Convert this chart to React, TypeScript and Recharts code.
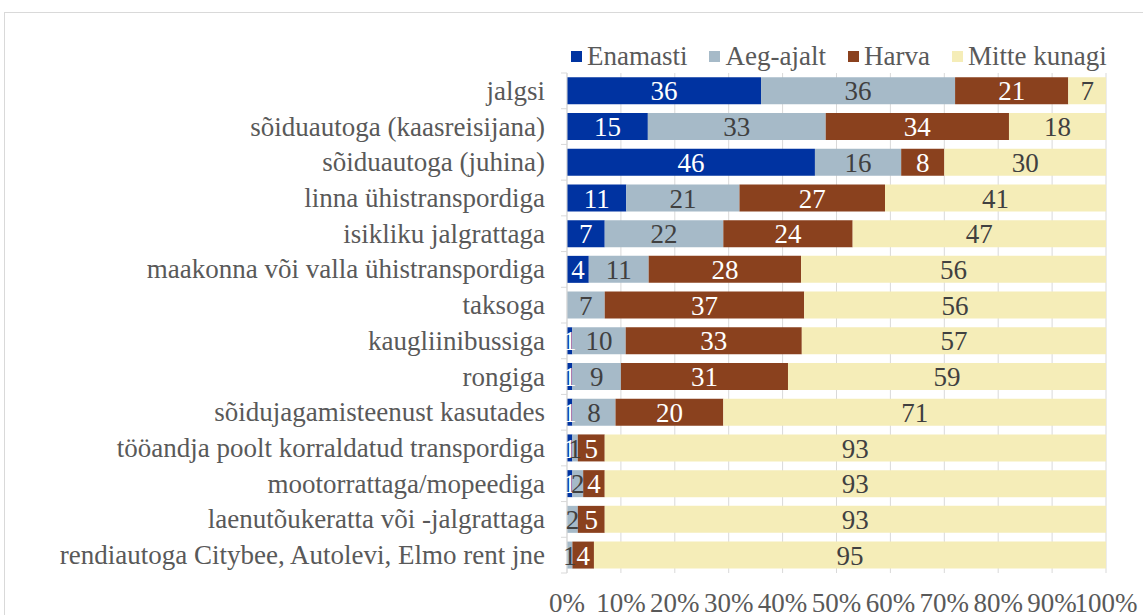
import { BarChart, Bar, XAxis, YAxis, CartesianGrid, Legend, LabelList } from "recharts";

// Share of answers per travel mode, % (Excel 100% stacked bar)
const categories = [
  "jalgsi ",
  "sõiduautoga (kaasreisijana)",
  "sõiduautoga (juhina)",
  "linna ühistranspordiga",
  "isikliku jalgrattaga",
  "maakonna või valla ühistranspordiga",
  "taksoga",
  "kaugliinibussiga",
  "rongiga",
  "sõidujagamisteenust kasutades",
  "tööandja poolt korraldatud transpordiga",
  "mootorrattaga/mopeediga",
  "laenutõukeratta või -jalgrattaga",
  "rendiautoga Citybee, Autolevi, Elmo rent jne",
];
const enamasti = [36, 15, 46, 11, 7, 4, 0, 1, 1, 1, 1, 1, 0, 0];
const aegAjalt = [36, 33, 16, 21, 22, 11, 7, 10, 9, 8, 1, 2, 2, 1];
const harva = [21, 34, 8, 27, 24, 28, 37, 33, 31, 20, 5, 4, 5, 4];
const mitteKunagi = [7, 18, 30, 41, 47, 56, 56, 57, 59, 71, 93, 93, 93, 95];
const xTicks = [0, 0.1, 0.2, 0.3, 0.4, 0.5, 0.6, 0.7, 0.8, 0.9, 1];

const data = categories.map((name, i) => ({
  name,
  enamasti: enamasti[i],
  aegAjalt: aegAjalt[i],
  harva: harva[i],
  mitteKunagi: mitteKunagi[i],
}));

const font = "'Times New Roman', Times, 'Liberation Serif', serif";
const fs = 27;
const plotTop = 73;
const plotH = 500;
const xAxisH = 30;
const band = plotH / categories.length;
const hideZero = (v: any) => (v === 0 ? "" : v);

const series = [
  { key: "enamasti", name: "Enamasti", color: "#0033A1", text: "#FFFFFF" },
  { key: "aegAjalt", name: "Aeg-ajalt", color: "#A6BAC8", text: "#404040" },
  { key: "harva", name: "Harva", color: "#8A411E", text: "#FFFFFF" },
  { key: "mitteKunagi", name: "Mitte kunagi", color: "#F5EDB8", text: "#404040" },
];

// percent labels sit well below the plot, as in Excel
const PercentTick = ({ x, y, payload }: any) => (
  <text x={x} y={y + 31} textAnchor="middle" dominantBaseline="middle" fontSize={fs} fill="#595959" fontFamily={font}>
    {`${Math.round(payload.value * 100)}%`}
  </text>
);

// category label plus Excel-style tick marks between the categories
const CategoryTick = ({ y, payload, index }: any) => {
  const axisX = 567;
  const last = index === categories.length - 1;
  return (
    <g>
      <line x1={axisX - 6} x2={axisX} y1={y - band / 2} y2={y - band / 2} stroke="#d9d9d9" />
      {last && <line x1={axisX - 6} x2={axisX} y1={y + band / 2} y2={y + band / 2} stroke="#d9d9d9" />}
      <text x={545} y={y} textAnchor="end" dominantBaseline="central" fontSize={fs} fill="#595959" fontFamily={font}>
        {payload.value}
      </text>
    </g>
  );
};

// legend in series order, tightly packed like Excel's
const LegendRow = () => (
  <div style={{ display: "flex", alignItems: "center", whiteSpace: "nowrap" }}>
    {series.map((s, i) => (
      <span key={s.key} style={{ display: "inline-flex", alignItems: "center", marginLeft: i === 0 ? 0 : 22 }}>
        <span style={{ width: 11, height: 11, background: s.color, marginRight: 5, display: "inline-block" }} />
        <span style={{ color: "#595959", fontSize: fs, lineHeight: "30px" }}>{s.name}</span>
      </span>
    ))}
  </div>
);

export default function App() {
  return (
    <div
      style={{
        position: "absolute",
        left: 0,
        top: 0,
        width: 1143,
        height: 615,
        overflow: "hidden",
        background: "#fff",
        fontFamily: font,
      }}
    >
      {/* chart frame, runs off the right and bottom edge like in the original */}
      <div style={{ position: "absolute", left: 4, top: 12, width: 1160, height: 640, border: "1px solid #d9d9d9" }} />
      <BarChart
        width={1143}
        height={615}
        data={data}
        layout="vertical"
        stackOffset="expand"
        barCategoryGap="12%"
        margin={{ top: plotTop, right: 37, bottom: 615 - plotTop - plotH - xAxisH, left: 4 }}
        style={{ fontFamily: font }}
      >
        <CartesianGrid horizontal={false} stroke="#d9d9d9" />
        <XAxis
          type="number"
          domain={[0, 1]}
          ticks={xTicks}
          height={xAxisH}
          axisLine={false}
          tickLine={false}
          tickSize={0}
          interval={0}
          tick={<PercentTick />}
        />
        <YAxis
          type="category"
          dataKey="name"
          width={563}
          interval={0}
          tickLine={false}
          tickSize={0}
          axisLine={{ stroke: "#d9d9d9" }}
          tick={<CategoryTick />}
        />
        <Legend
          layout="horizontal"
          verticalAlign="middle"
          align="center"
          content={<LegendRow />}
          wrapperStyle={{ top: 41, left: 571, width: 570 }}
        />
        {series.map((s) => (
          <Bar key={s.key} dataKey={s.key} name={s.name} stackId="a" fill={s.color} isAnimationActive={false}>
            <LabelList
              dataKey={s.key}
              position="center"
              formatter={hideZero}
              style={{ fill: s.text, fontSize: fs, fontFamily: font }}
            />
          </Bar>
        ))}
      </BarChart>
    </div>
  );
}
